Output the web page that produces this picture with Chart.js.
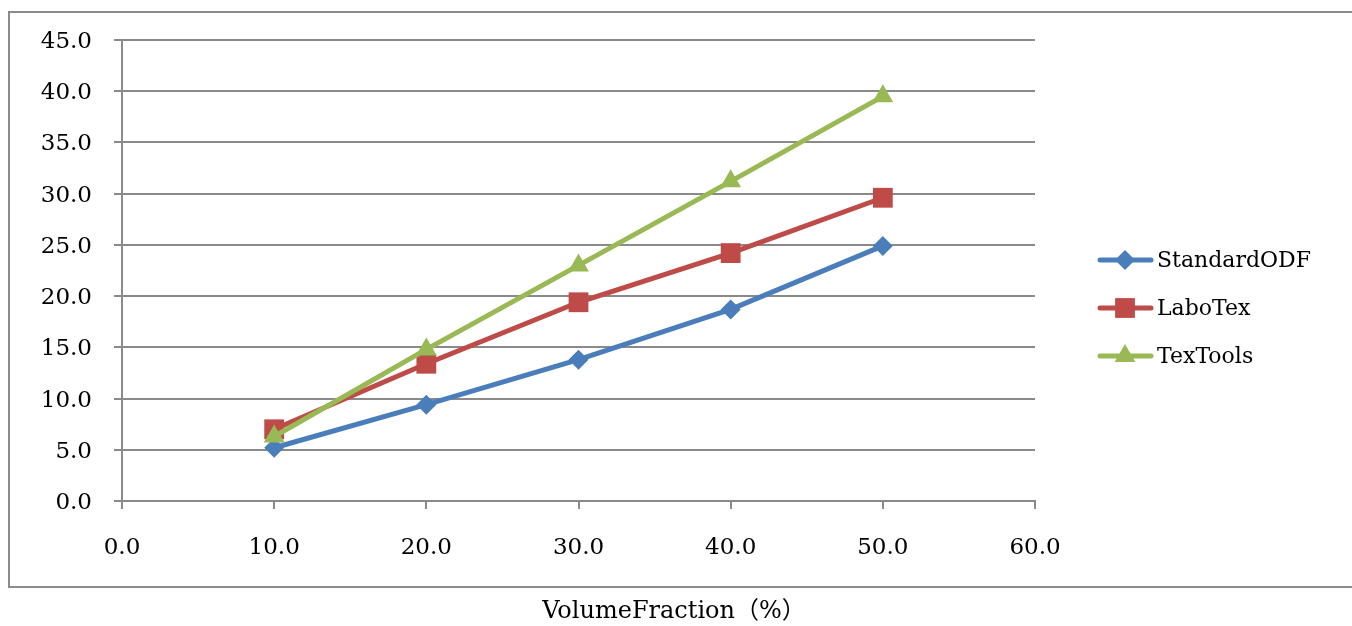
<!DOCTYPE html>
<html>
<head>
<meta charset="utf-8">
<script src="https://cdn.jsdelivr.net/npm/chart.js@4/dist/chart.umd.min.js"></script>
<style>
  html, body { margin: 0; padding: 0; background: #fff; }
  canvas { display: block; }
</style>
</head>
<body>
<canvas id="chart" width="1352" height="626"></canvas>
<script>
/* --- data ---------------------------------------------------------------- */
const volumeFraction = [10, 20, 30, 40, 50];
const standardODF    = [5.2, 9.4, 13.8, 18.7, 24.9];
const laboTex        = [7.0, 13.4, 19.4, 24.2, 29.6];
const texTools       = [6.3, 14.8, 23.0, 31.2, 39.5];
const seriesNames    = ['StandardODF', 'LaboTex', 'TexTools'];
const xTitle         = 'VolumeFraction（%）';

const FONT = '"DejaVu Serif", "Liberation Serif", "Noto Sans CJK JP", serif';
const GRID = '#8a8a8a';

/* --- helpers ------------------------------------------------------------- */
function toPoints(values) {
    return values.map((v, i) => ({ x: volumeFraction[i], y: v }));
}

function serie(label, values, color, style, radius, order) {
    return {
        label,
        data: toPoints(values),
        borderColor: color,
        backgroundColor: color,
        borderWidth: 5,
        pointStyle: style,
        pointRadius: radius,
        pointHoverRadius: radius,
        pointBorderWidth: 0,
        order
    };
}

/* marco gris y titulo del eje x (centrado en toda la pagina, como en Excel) */
const framePlugin = {
    id: 'frame',
    beforeDraw(chart) {
        const ctx = chart.ctx;
        ctx.save();
        ctx.strokeStyle = '#8c8c8c';
        ctx.lineWidth = 2;
        ctx.strokeRect(9, 12, 1400, 575);
        ctx.restore();
    },
    afterDraw(chart) {
        const ctx = chart.ctx;
        ctx.save();
        ctx.fillStyle = '#000';
        ctx.font = '24px ' + FONT;
        ctx.textAlign = 'center';
        ctx.textBaseline = 'middle';
        ctx.fillText(xTitle, 674, 612);
        ctx.restore();
    }
};

/* leyenda dibujada a mano: linea + marcador como en Excel */
const legendPlugin = {
    id: 'excelLegend',
    afterDraw(chart) {
        const ctx = chart.ctx;
        ctx.save();
        chart.data.datasets.forEach((ds, i) => {
            const y = 260 + i * 48;
            ctx.strokeStyle = ds.borderColor;
            ctx.lineWidth = 5;
            ctx.lineCap = 'round';
            ctx.beginPath();
            ctx.moveTo(1100, y);
            ctx.lineTo(1151, y);
            ctx.stroke();
            ctx.fillStyle = ds.backgroundColor;
            Chart.helpers.drawPoint(ctx, {
                pointStyle: ds.pointStyle, radius: ds.pointRadius, rotation: 0, borderWidth: 0
            }, 1125, y);
            ctx.fillStyle = '#000';
            ctx.font = '22px ' + FONT;
            ctx.textBaseline = 'middle';
            ctx.fillText(ds.label, 1157, y + 1);
        });
        ctx.restore();
    }
};

new Chart(document.getElementById('chart'), {
    type: 'line',
    data: {
        datasets: [
            serie(seriesNames[0], standardODF, '#4a7ebb', 'rectRot', 10, 2),
            serie(seriesNames[1], laboTex, '#be4b48', 'rect', 14, 1),
            serie(seriesNames[2], texTools, '#98b954', 'triangle', 12, 0)
        ]
    },
    options: {
        responsive: false,
        animation: false,
        layout: { padding: { left: 0, top: 40, right: 317, bottom: 0 } },
        plugins: {
            legend: { display: false },
            tooltip: { enabled: false }
        },
        scales: {
            x: {
                type: 'linear',
                min: 0,
                max: 60,
                afterFit(scale) { scale.height = 125; },
                ticks: {
                    stepSize: 10,
                    padding: 25,
                    color: '#000',
                    font: { family: FONT, size: 23 },
                    callback: v => v.toFixed(1)
                },
                grid: {
                    drawOnChartArea: false,
                    drawTicks: true,
                    tickLength: 8,
                    color: GRID,
                    lineWidth: 2
                },
                border: { color: GRID, width: 2 }
            },
            y: {
                min: 0,
                max: 45,
                afterFit(scale) { scale.width = 122; },
                ticks: {
                    stepSize: 5,
                    padding: 22,
                    labelOffset: 2,
                    color: '#000',
                    font: { family: FONT, size: 23 },
                    callback: v => v.toFixed(1)
                },
                grid: {
                    drawTicks: true,
                    tickLength: 8,
                    color: GRID,
                    lineWidth: 2
                },
                border: { color: GRID, width: 2 }
            }
        }
    },
    plugins: [framePlugin, legendPlugin]
});
</script>
</body>
</html>
